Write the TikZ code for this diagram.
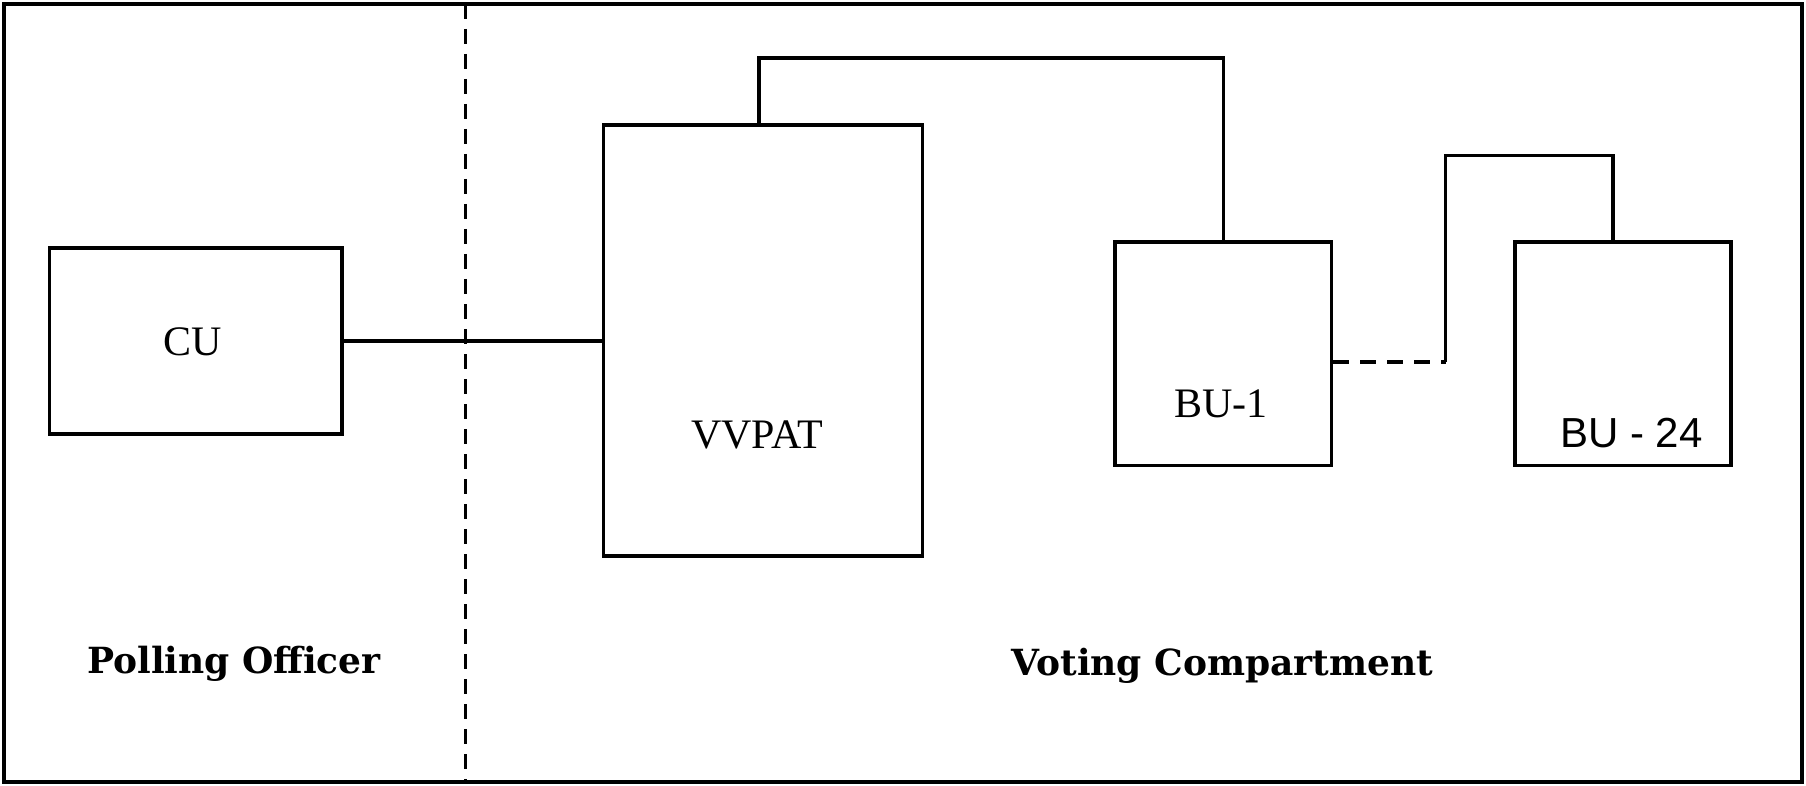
\documentclass[tikz,border=0pt]{standalone}
\usepackage{fontspec}
\setmainfont{Liberation Serif}
\newfontfamily\boldlab{DejaVu Serif}
\newfontfamily\sanslab{Liberation Sans}
\begin{document}
\begin{tikzpicture}[x=1pt,y=-1pt,
  unitbox/.style={draw, line width=3.2pt, inner sep=0pt},
  wire/.style={line width=3.2pt},
  dashwire/.style={line width=3.2pt, dash pattern=on 16pt off 11pt},
  divider/.style={line width=3pt, dash pattern=on 15pt off 10pt},
  txt/.style={inner sep=0pt, anchor=base, font=\fontsize{42}{46}\selectfont},
  sanstxt/.style={inner sep=0pt, anchor=base, font=\sanslab\fontsize{42}{46}\selectfont},
  zonetxt/.style={inner sep=0pt, anchor=base, font=\boldlab\bfseries\fontsize{36}{40}\selectfont}]
\useasboundingbox (0,0) rectangle (1806,786);
% outer frame
\node[draw, line width=3.5pt, minimum width=1798pt, minimum height=778pt, inner sep=0pt] (frame) at (903,393) {};
% divider
\draw[divider] (465,4) -- (465,782);
% units
\node[unitbox, minimum width=292.5pt, minimum height=186pt] (cu) at (195.75,341) {};
\node[unitbox, minimum width=319pt, minimum height=431pt] (vv) at (763,340.5) {};
\node[unitbox, minimum width=216.5pt, minimum height=223.5pt] (bu1) at (1223.25,353.75) {};
\node[unitbox, minimum width=216pt, minimum height=223.5pt] (bu24) at (1623,353.75) {};
% texts
\node[txt] (cutxt) at (192.5,355) {CU};
\node[txt] (vvtxt) at (757,448) {VVPAT};
\node[txt] (bu1txt) at (1221,417) {BU-1};
\node[sanstxt] (bu24txt) at (1631.5,447) {BU - 24};
\node[zonetxt] (potxt) at (234,673) {Polling Officer};
\node[zonetxt] (vctxt) at (1222.5,675) {Voting Compartment};
% connectors
\draw[wire] (cu.east) -- (cu.east -| vv.west);
\coordinate (t1) at (759,58);
\draw[wire] (vv.north -| t1) -- (t1) -- (t1 -| bu1.north) -- (bu1.north);
\coordinate (d1) at (1445.5,362);
\coordinate (t2) at (1445.5,155.5);
\coordinate (t3) at (1613,155.5);
\draw[dashwire] (bu1.east |- d1) -- (d1);
\draw[wire] (d1) -- (t2) -- (t3) -- (t3 |- bu24.north);
\end{tikzpicture}
\end{document}
